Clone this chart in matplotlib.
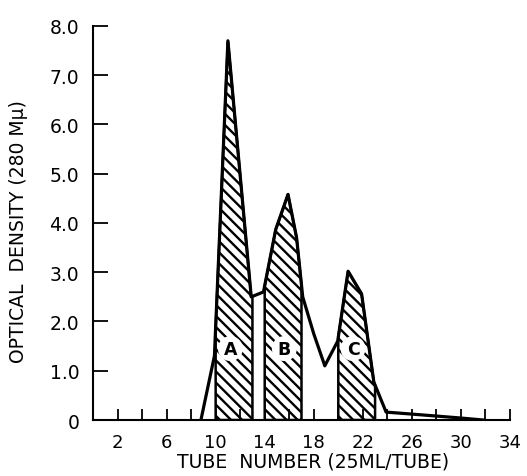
import numpy as np
import matplotlib.pyplot as plt

# Elution profile
tube = [8.8, 9.9, 11.0, 12.9, 13.9, 14.9, 15.9, 16.6, 17.1, 18.0, 18.9,
        19.95, 20.8, 21.9, 22.9, 23.9, 26.0, 30.0, 31.8]
od = [0.0, 1.3, 7.7, 2.5, 2.6, 3.87, 4.58, 3.7, 2.5, 1.75, 1.1,
      1.6, 3.02, 2.56, 0.77, 0.16, 0.12, 0.04, 0.0]

# Pooled fractions (hatched)
peaks = ['A', 'B', 'C']
peak_ranges = [(10, 13), (14, 17), (20, 23)]
label_pos = [(11.2, 1.45), (15.6, 1.45), (21.2, 1.45)]

xticks_major = [2, 6, 10, 14, 18, 22, 26, 30, 34]
xticks_minor = [4, 8, 12, 16, 20, 24, 28, 32]
yticks = [0, 1, 2, 3, 4, 5, 6, 7, 8]
ytick_labels = ['0', '1.0', '2.0', '3.0', '4.0', '5.0', '6.0', '7.0', '8.0']

plt.rcParams['hatch.linewidth'] = 1.7
plt.rcParams['font.family'] = 'DejaVu Sans'

fig = plt.figure(figsize=(5.27, 4.77), dpi=100)
ax = fig.add_axes([0.1765, 0.1174, 0.7912, 0.826])

for lo, hi in peak_ranges:
    xs = np.linspace(lo, hi, 200)
    ys = np.interp(xs, tube, od)
    ax.fill_between(xs, 0, ys, facecolor='white', edgecolor='black',
                    hatch='\\\\\\', linewidth=1.8)

ax.plot(tube, od, color='black', linewidth=2.3)

for name, (x, y) in zip(peaks, label_pos):
    ax.text(x, y, name, ha='center', va='center', fontsize=12.5,
            fontweight='bold',
            bbox=dict(boxstyle='circle,pad=0.2', fc='white', ec='none'))

ax.set_xlim(0, 34)
ax.set_ylim(0, 8)
ax.spines['top'].set_visible(False)
ax.spines['right'].set_visible(False)
ax.spines['left'].set_linewidth(1.5)
ax.spines['bottom'].set_linewidth(1.5)

ax.set_xticks(xticks_major)
ax.set_xticks(xticks_minor, minor=True)
ax.set_yticks(yticks)
ax.set_yticklabels(ytick_labels)
ax.tick_params(axis='x', which='both', direction='in', length=8, width=1.3,
               pad=9, labelsize=13)
ax.tick_params(axis='y', direction='in', length=11, width=1.3,
               pad=10, labelsize=13.5)

ax.set_xlabel('TUBE  NUMBER (25ML/TUBE)', fontsize=13.5, va='center')
ax.set_ylabel('OPTICAL  DENSITY (280 Mμ)', fontsize=13.5, va='center')
ax.xaxis.set_label_coords(0.528, -0.104)
ax.yaxis.set_label_coords(-0.178, 0.48)

fig.savefig('out.png', dpi=100)
